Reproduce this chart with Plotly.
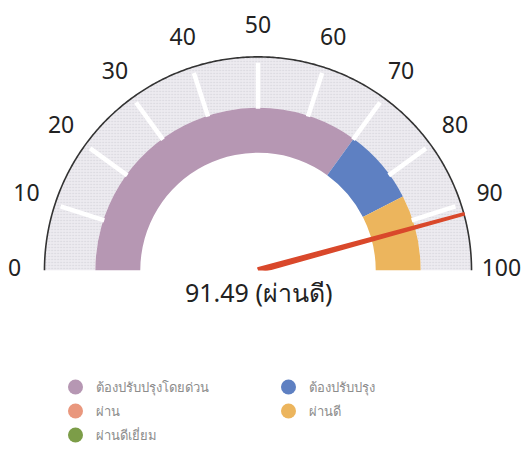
import plotly.graph_objects as go

# ---- data ----
value = 91.49
value_label = "91.49 (ผ่านดี)"
tick_values = [0, 10, 20, 30, 40, 50, 60, 70, 80, 90, 100]
tick_labels = ["0", "10", "20", "30", "40", "50", "60", "70", "80", "90", "100"]
band_names = ["ต้องปรับปรุงโดยด่วน", "ต้องปรับปรุง", "ผ่านดี"]
band_start = [0, 70, 85]
band_end = [70, 85, 100]
band_colors = ["#b697b3", "#5e80c2", "#ecb55d"]
legend_rows = [["ต้องปรับปรุงโดยด่วน", "ต้องปรับปรุง"], ["ผ่าน", "ผ่านดี"], ["ผ่านดีเยี่ยม"]]
legend_row_colors = [["#b697b3", "#5e80c2"], ["#e9977d", "#ecb55d"], ["#7c9d48"]]

S = 1.8  # degrees per unit (0..100 -> 0..180)
R_TOT, R_OUT, R_MID, R_IN, R_LBL = 256, 214, 163, 118, 244

fig = go.Figure()

# outer gray band
fig.add_trace(go.Barpolar(
    r=[R_OUT - R_MID], base=[R_MID], theta=[90], width=[180],
    marker=dict(color="#e6e4ea", line=dict(width=0),
                pattern=dict(shape=".", fgcolor="#bcb9c1", bgcolor="#edebf0", size=3, solidity=0.2)),
    showlegend=False, hoverinfo="skip"))

# coloured bands
for s, e, c in zip(band_start, band_end, band_colors):
    fig.add_trace(go.Barpolar(
        r=[R_MID - R_IN], base=[R_IN], theta=[(s + e) / 2 * S], width=[(e - s) * S],
        marker=dict(color=c, line=dict(width=0)), showlegend=False, hoverinfo="skip"))

# white tick separators in gray band
tr, tt = [], []
for v in tick_values[1:-1]:
    tr += [R_MID - 1, R_OUT - 6, None]
    tt += [v * S, v * S, None]
fig.add_trace(go.Scatterpolar(r=tr, theta=tt, mode="lines",
                              line=dict(color="white", width=4.5),
                              showlegend=False, hoverinfo="skip"))

# outer arc line
arc_t = [i * 0.5 for i in range(361)]
fig.add_trace(go.Scatterpolar(r=[R_OUT] * len(arc_t), theta=arc_t, mode="lines",
                              line=dict(color="#333", width=1.6),
                              showlegend=False, hoverinfo="skip"))

# tick labels
fig.add_trace(go.Scatterpolar(r=[R_LBL] * len(tick_values), theta=[v * S for v in tick_values],
                              mode="text", text=tick_labels, textposition="middle center",
                              textfont=dict(size=23, color="#222"),
                              showlegend=False, hoverinfo="skip"))

# needle (tapered)
a = value * S
fig.add_trace(go.Scatterpolar(r=[2.5, R_OUT, R_OUT, 2.5], theta=[a - 90, a - 0.3, a + 0.3, a + 90],
                              mode="lines", fill="toself", fillcolor="#d9482b",
                              line=dict(color="#d9482b", width=1.5),
                              showlegend=False, hoverinfo="skip"))

# legend entries (one legend per row)
for i, (names, cols) in enumerate(zip(legend_rows, legend_row_colors)):
    lg = "legend" if i == 0 else f"legend{i + 1}"
    for n, c in zip(names, cols):
        fig.add_trace(go.Scatterpolar(r=[None], theta=[None], mode="markers", name=n, legend=lg,
                                      marker=dict(color=c, size=15, symbol="circle")))

W, H = 525, 450
cx, cy = 258, 271
row_y = [387, 411, 436]
leg_common = dict(orientation="h", x=55.5 / W, xanchor="left", yanchor="middle",
                  entrywidth=168, entrywidthmode="pixels", bgcolor="rgba(0,0,0,0)",
                  font=dict(size=13, color="#8c8c8c"), itemsizing="trace")
fig.update_layout(
    width=W, height=H,
    margin=dict(l=0, r=0, t=0, b=0),
    paper_bgcolor="white",
    font=dict(family="Noto Sans, DejaVu Sans, sans-serif", color="#222"),
    polar=dict(
        domain=dict(x=[(cx - R_TOT) / W, (cx + R_TOT) / W],
                    y=[1 - cy / H, 1 - (cy - R_TOT) / H]),
        sector=[0, 180],
        bgcolor="rgba(0,0,0,0)",
        radialaxis=dict(visible=False, range=[0, R_TOT]),
        angularaxis=dict(rotation=180, direction="clockwise", visible=False,
                         showgrid=False, showline=False, showticklabels=False, ticks=""),
    ),
    showlegend=True,
    legend=dict(y=1 - row_y[0] / H, **leg_common),
    legend2=dict(y=1 - row_y[1] / H, **leg_common),
    legend3=dict(y=1 - row_y[2] / H, **leg_common),
    annotations=[dict(text=value_label, x=cx / W, y=1 - 293 / H, xref="paper", yref="paper",
                      showarrow=False, font=dict(size=25, color="#222"))],
)

fig.write_html("out.html", config={"displayModeBar": False},
               post_script="document.body.style.margin='0';")
